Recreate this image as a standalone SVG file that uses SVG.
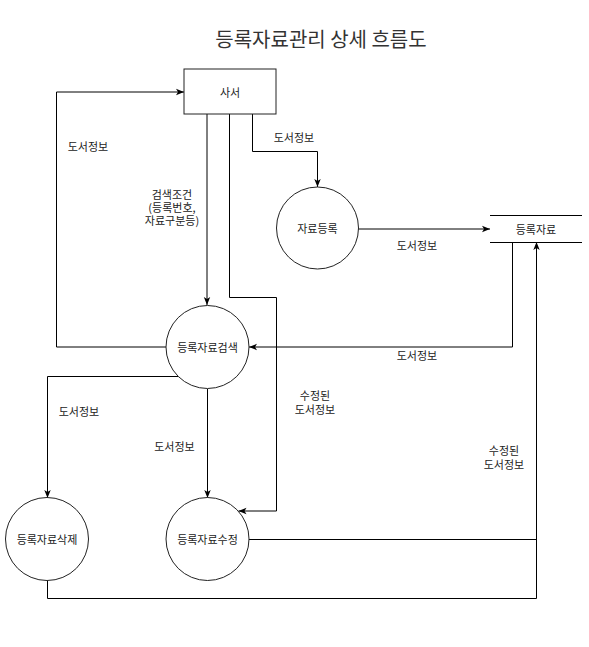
<svg xmlns="http://www.w3.org/2000/svg" width="589" height="647" viewBox="0 0 589 647">
<defs>
<marker id="arr" viewBox="0 0 10 10" refX="10" refY="5" markerWidth="8" markerHeight="8" markerUnits="userSpaceOnUse" orient="auto">
<path d="M0,1 L10,5 L0,9 L2.5,5 z" fill="#000"/>
</marker>
<style>
.t{font-family:"Noto Sans CJK KR","Liberation Sans",sans-serif;font-size:11px;fill:#222;text-anchor:middle;dominant-baseline:central}
.title{font-size:20px;fill:#333}
.n{fill:#fff;stroke:#222;stroke-width:1}
.e{fill:none;stroke:#000;stroke-width:1}
.ea{fill:none;stroke:#000;stroke-width:1;marker-end:url(#arr)}
</style>
</defs>
<rect width="589" height="647" fill="#fff"/>
<text class="t title" x="321" y="38">등록자료관리 상세 흐름도</text>

<g id="connectors">
<polyline class="ea" points="166,347 56.5,347 56.5,92 184,92"/>
<polyline class="ea" points="207,114 207,305"/>
<polyline class="ea" points="229.5,114 229.5,297.5 276.5,297.5 276.5,511 238.5,511"/>
<polyline class="ea" points="252.5,114 252.5,151.5 317.5,151.5 317.5,187"/>
<polyline class="ea" points="358,229 490,229"/>
<polyline class="ea" points="512.5,242 512.5,347 249,347"/>
<polyline class="ea" points="178,376.5 47.5,376.5 47.5,498"/>
<polyline class="ea" points="207.5,389 207.5,498"/>
<polyline class="e" points="249,539.5 536.5,539.5"/>
<polyline class="ea" points="47.5,580.5 47.5,598.5 536.5,598.5 536.5,242"/>
</g>

<g id="labels">
<text class="t" x="88" y="146">도서정보</text>
<text class="t" x="294" y="137">도서정보</text>
<text class="t" x="172" y="194">검색조건<tspan x="172" dy="13">(등록번호,</tspan><tspan x="172" dy="13">자료구분등)</tspan></text>
<text class="t" x="417" y="245">도서정보</text>
<text class="t" x="417" y="355">도서정보</text>
<text class="t" x="79" y="411">도서정보</text>
<text class="t" x="315" y="395">수정된<tspan x="315" dy="13.5">도서정보</tspan></text>
<text class="t" x="174.5" y="446">도서정보</text>
<text class="t" x="504" y="450">수정된<tspan x="504" dy="13.5">도서정보</tspan></text>
</g>

<g id="librarian">
<rect class="n" x="184" y="69" width="92" height="45"/>
<text class="t" x="230" y="91.5">사서</text>
</g>
<g id="register">
<circle class="n" cx="317.5" cy="228" r="41"/>
<text class="t" x="317.5" y="228">자료등록</text>
</g>
<g id="store">
<line class="e" x1="490" y1="215.5" x2="582" y2="215.5"/>
<line class="e" x1="490" y1="242.5" x2="582" y2="242.5"/>
<text class="t" x="536" y="229">등록자료</text>
</g>
<g id="search">
<circle class="n" cx="207.5" cy="347" r="41.5"/>
<text class="t" x="207.5" y="347">등록자료검색</text>
</g>
<g id="delete">
<circle class="n" cx="47" cy="539" r="41.5"/>
<text class="t" x="47" y="539">등록자료삭제</text>
</g>
<g id="modify">
<circle class="n" cx="207.5" cy="539" r="41.5"/>
<text class="t" x="207.5" y="539">등록자료수정</text>
</g>
</svg>
